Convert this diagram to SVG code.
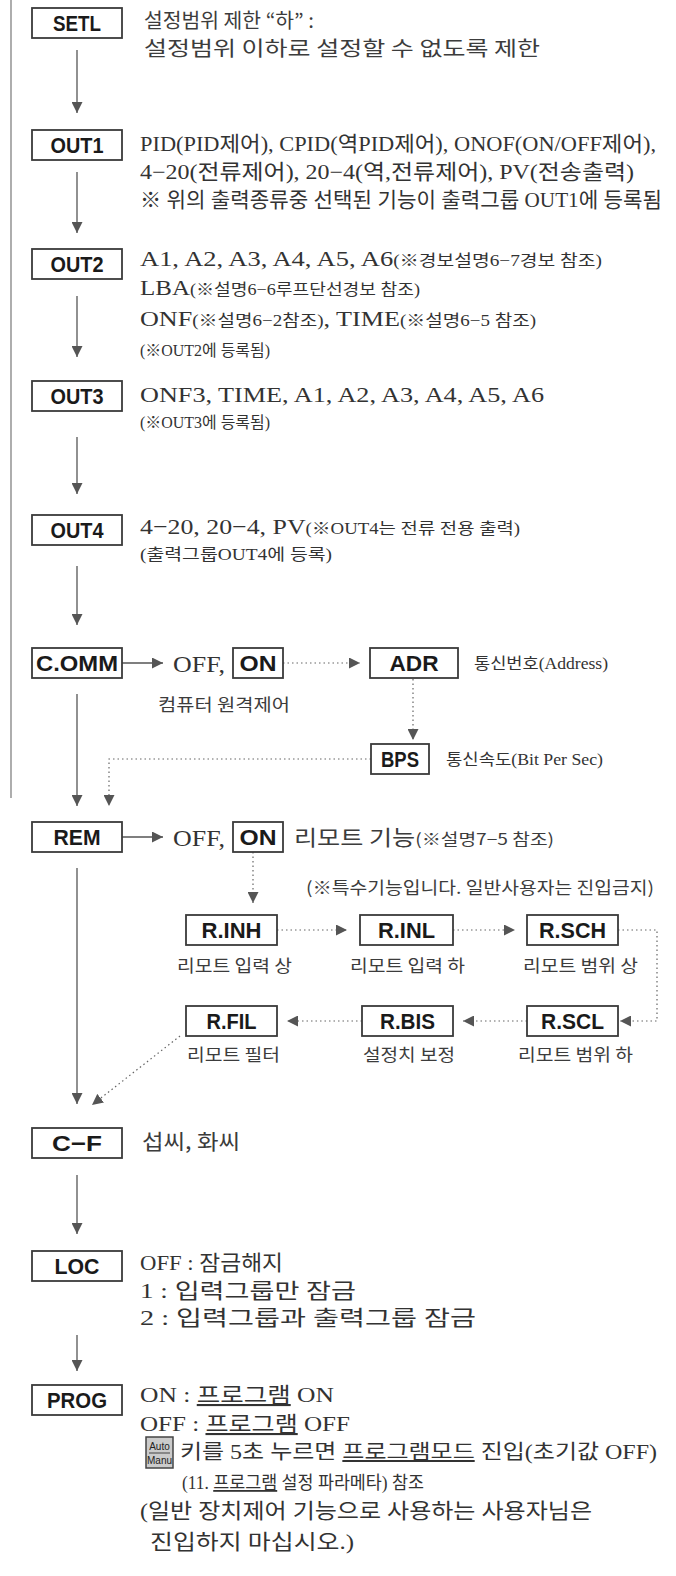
<svg xmlns="http://www.w3.org/2000/svg" width="676" height="1576" viewBox="0 0 676 1576">
<defs>
<style>
.box{fill:#fff;stroke:#3a3a3a;stroke-width:1.8}
.lbl{font-family:"Liberation Sans",Arial,sans-serif;font-weight:bold;font-size:22px;fill:#1a1a1a;text-anchor:middle}
.kg{font-family:"Noto Sans CJK KR",sans-serif;font-size:20px;fill:#3c3c3c}
.kgs{font-family:"Noto Sans CJK KR",sans-serif;font-size:17px;fill:#3c3c3c}
.sr{font-family:"Liberation Serif","Noto Sans CJK KR",serif;font-size:21px;fill:#333}
.sr2{font-family:"Liberation Serif","Noto Sans CJK KR",serif;font-size:22px;fill:#333}
.sm{font-size:16px}
.ln{stroke:#555;stroke-width:1.3;fill:none}
.dt{stroke:#666;stroke-width:1.2;stroke-dasharray:1.5 3;fill:none}
.u{text-decoration:underline}
</style>
<marker id="ah" markerUnits="userSpaceOnUse" markerWidth="11" markerHeight="11" refX="11" refY="5.5" orient="auto" viewBox="0 0 11 11">
<path d="M0,0 L11,5.5 L0,11 z" fill="#555"/>
</marker>
</defs>

<line x1="11" y1="0" x2="11" y2="798" stroke="#777" stroke-width="1.2"/>

<g id="connectors">
<line class="ln" x1="77" y1="50" x2="77" y2="113" marker-end="url(#ah)"/>
<line class="ln" x1="77" y1="172" x2="77" y2="233" marker-end="url(#ah)"/>
<line class="ln" x1="77" y1="296" x2="77" y2="357" marker-end="url(#ah)"/>
<line class="ln" x1="77" y1="437" x2="77" y2="494" marker-end="url(#ah)"/>
<line class="ln" x1="77" y1="566" x2="77" y2="625" marker-end="url(#ah)"/>
<line class="ln" x1="77" y1="694" x2="77" y2="806" marker-end="url(#ah)"/>
<line class="ln" x1="77" y1="868" x2="77" y2="1104" marker-end="url(#ah)"/>
<line class="ln" x1="77" y1="1175" x2="77" y2="1234" marker-end="url(#ah)"/>
<line class="ln" x1="77" y1="1335" x2="77" y2="1371" marker-end="url(#ah)"/>
<line class="ln" x1="122" y1="663" x2="163" y2="663" marker-end="url(#ah)"/>
<line class="ln" x1="122" y1="837" x2="163" y2="837" marker-end="url(#ah)"/>
<line class="dt" x1="283" y1="663" x2="360" y2="663" marker-end="url(#ah)"/>
<line class="dt" x1="413" y1="679" x2="413" y2="740" marker-end="url(#ah)"/>
<polyline class="dt" points="371,759 109,759 109,806" marker-end="url(#ah)"/>
<line class="dt" x1="253" y1="852" x2="253" y2="903" marker-end="url(#ah)"/>
<line class="dt" x1="277" y1="930" x2="347" y2="930" marker-end="url(#ah)"/>
<line class="dt" x1="453" y1="930" x2="515" y2="930" marker-end="url(#ah)"/>
<polyline class="dt" points="618,930 657,930 657,1021 620,1021" marker-end="url(#ah)"/>
<line class="dt" x1="527" y1="1021" x2="463" y2="1021" marker-end="url(#ah)"/>
<line class="dt" x1="362" y1="1021" x2="287" y2="1021" marker-end="url(#ah)"/>
<line class="dt" x1="180" y1="1036" x2="92" y2="1105" marker-end="url(#ah)"/>
</g>

<g id="SETL">
<rect class="box" x="32" y="8" width="90" height="30"/>
<text class="lbl" x="77" y="31" textLength="48" lengthAdjust="spacingAndGlyphs">SETL</text>
<text class="kg" x="144" y="28" textLength="170" lengthAdjust="spacingAndGlyphs">설정범위 제한 “하” :</text>
<text class="kg" x="144" y="56" textLength="396" lengthAdjust="spacingAndGlyphs">설정범위 이하로 설정할 수 없도록 제한</text>
</g>

<g id="OUT1">
<rect class="box" x="32" y="130" width="90" height="30"/>
<text class="lbl" x="77" y="153" textLength="53" lengthAdjust="spacingAndGlyphs">OUT1</text>
<text class="sr" x="140" y="151" textLength="516" lengthAdjust="spacingAndGlyphs">PID(PID제어), CPID(역PID제어), ONOF(ON/OFF제어),</text>
<text class="sr" x="140" y="179" textLength="494" lengthAdjust="spacingAndGlyphs">4−20(전류제어), 20−4(역,전류제어), PV(전송출력)</text>
<text class="sr" x="140" y="207" textLength="522" lengthAdjust="spacingAndGlyphs">※ 위의 출력종류중 선택된 기능이 출력그룹 OUT1에 등록됨</text>
</g>

<g id="OUT2">
<rect class="box" x="32" y="249" width="90" height="30"/>
<text class="lbl" x="77" y="272" textLength="53" lengthAdjust="spacingAndGlyphs">OUT2</text>
<text class="sr2" x="140" y="266" textLength="462" lengthAdjust="spacingAndGlyphs">A1, A2, A3, A4, A5, A6<tspan class="sm">(※경보설명6−7경보 참조)</tspan></text>
<text class="sr2" x="140" y="295" textLength="280" lengthAdjust="spacingAndGlyphs">LBA<tspan class="sm">(※설명6−6루프단선경보 참조)</tspan></text>
<text class="sr2" x="140" y="326" textLength="396" lengthAdjust="spacingAndGlyphs">ONF<tspan class="sm">(※설명6−2참조)</tspan>, TIME<tspan class="sm">(※설명6−5 참조)</tspan></text>
<text class="sr sm" x="140" y="356" textLength="130" lengthAdjust="spacingAndGlyphs">(※OUT2에 등록됨)</text>
</g>

<g id="OUT3">
<rect class="box" x="32" y="381" width="90" height="30"/>
<text class="lbl" x="77" y="404" textLength="53" lengthAdjust="spacingAndGlyphs">OUT3</text>
<text class="sr2" x="140" y="402" textLength="404" lengthAdjust="spacingAndGlyphs">ONF3, TIME, A1, A2, A3, A4, A5, A6</text>
<text class="sr sm" x="140" y="428" textLength="130" lengthAdjust="spacingAndGlyphs">(※OUT3에 등록됨)</text>
</g>

<g id="OUT4">
<rect class="box" x="32" y="515" width="90" height="30"/>
<text class="lbl" x="77" y="538" textLength="53" lengthAdjust="spacingAndGlyphs">OUT4</text>
<text class="sr2" x="140" y="534" textLength="380" lengthAdjust="spacingAndGlyphs">4−20, 20−4, PV<tspan class="sm">(※OUT4는 전류 전용 출력)</tspan></text>
<text class="sr sm" x="140" y="560" textLength="192" lengthAdjust="spacingAndGlyphs">(출력그룹OUT4에 등록)</text>
</g>

<g id="COMM">
<rect class="box" x="32" y="648" width="90" height="30"/>
<text class="lbl" x="77" y="671" textLength="82" lengthAdjust="spacingAndGlyphs">C.OMM</text>
<text class="sr" x="173" y="672" style="font-size:24px" textLength="52" lengthAdjust="spacingAndGlyphs">OFF,</text>
<text class="kgs" x="158" y="711" textLength="132" lengthAdjust="spacingAndGlyphs">컴퓨터 원격제어</text>
</g>
<g id="COMM_ON">
<rect class="box" x="233" y="648" width="50" height="30"/>
<text class="lbl" x="258" y="671" textLength="37" lengthAdjust="spacingAndGlyphs">ON</text>
</g>
<g id="ADR">
<rect class="box" x="370" y="648" width="88" height="30"/>
<text class="lbl" x="414" y="671" textLength="49" lengthAdjust="spacingAndGlyphs">ADR</text>
<text class="sr sm" x="474" y="669" textLength="134" lengthAdjust="spacingAndGlyphs">통신번호(Address)</text>
</g>
<g id="BPS">
<rect class="box" x="371" y="744" width="58" height="30"/>
<text class="lbl" x="400" y="767" textLength="38" lengthAdjust="spacingAndGlyphs">BPS</text>
<text class="sr sm" x="446" y="765" textLength="157" lengthAdjust="spacingAndGlyphs">통신속도(Bit Per Sec)</text>
</g>

<g id="REM">
<rect class="box" x="32" y="822" width="90" height="30"/>
<text class="lbl" x="77" y="845" textLength="47" lengthAdjust="spacingAndGlyphs">REM</text>
<text class="sr" x="173" y="846" style="font-size:24px" textLength="52" lengthAdjust="spacingAndGlyphs">OFF,</text>
<text class="kg" x="294" y="845" style="font-size:21px" textLength="260" lengthAdjust="spacingAndGlyphs">리모트 기능<tspan class="sm">(※설명7−5 참조)</tspan></text>
<text class="kgs" x="306" y="894" textLength="348" lengthAdjust="spacingAndGlyphs">(※특수기능입니다. 일반사용자는 진입금지)</text>
</g>
<g id="REM_ON">
<rect class="box" x="233" y="822" width="50" height="30"/>
<text class="lbl" x="258" y="845" textLength="37" lengthAdjust="spacingAndGlyphs">ON</text>
</g>

<g id="RINH">
<rect class="box" x="186" y="915" width="91" height="30"/>
<text class="lbl" x="231.5" y="938" textLength="60" lengthAdjust="spacingAndGlyphs">R.INH</text>
<text class="kgs" x="177" y="972" textLength="115" lengthAdjust="spacingAndGlyphs">리모트 입력 상</text>
</g>
<g id="RINL">
<rect class="box" x="360" y="915" width="93" height="30"/>
<text class="lbl" x="406.5" y="938" textLength="57" lengthAdjust="spacingAndGlyphs">R.INL</text>
<text class="kgs" x="350" y="972" textLength="115" lengthAdjust="spacingAndGlyphs">리모트 입력 하</text>
</g>
<g id="RSCH">
<rect class="box" x="527" y="915" width="91" height="30"/>
<text class="lbl" x="572.5" y="938" textLength="67" lengthAdjust="spacingAndGlyphs">R.SCH</text>
<text class="kgs" x="523" y="972" textLength="115" lengthAdjust="spacingAndGlyphs">리모트 범위 상</text>
</g>
<g id="RFIL">
<rect class="box" x="186" y="1006" width="91" height="30"/>
<text class="lbl" x="231.5" y="1029" textLength="50" lengthAdjust="spacingAndGlyphs">R.FIL</text>
<text class="kgs" x="187" y="1061" textLength="93" lengthAdjust="spacingAndGlyphs">리모트 필터</text>
</g>
<g id="RBIS">
<rect class="box" x="362" y="1006" width="91" height="30"/>
<text class="lbl" x="407.5" y="1029" textLength="55" lengthAdjust="spacingAndGlyphs">R.BIS</text>
<text class="kgs" x="363" y="1061" textLength="92" lengthAdjust="spacingAndGlyphs">설정치 보정</text>
</g>
<g id="RSCL">
<rect class="box" x="527" y="1006" width="91" height="30"/>
<text class="lbl" x="572.5" y="1029" textLength="63" lengthAdjust="spacingAndGlyphs">R.SCL</text>
<text class="kgs" x="518" y="1061" textLength="115" lengthAdjust="spacingAndGlyphs">리모트 범위 하</text>
</g>

<g id="CF">
<rect class="box" x="32" y="1128" width="90" height="30"/>
<text class="lbl" x="77" y="1151" textLength="50" lengthAdjust="spacingAndGlyphs">C−F</text>
<text class="kg" x="142" y="1149" style="font-size:21px" textLength="98" lengthAdjust="spacingAndGlyphs">섭씨, 화씨</text>
</g>

<g id="LOC">
<rect class="box" x="32" y="1251" width="90" height="30"/>
<text class="lbl" x="77" y="1274" textLength="45" lengthAdjust="spacingAndGlyphs">LOC</text>
<text class="sr" x="140" y="1270" textLength="143" lengthAdjust="spacingAndGlyphs">OFF : 잠금해지</text>
<text class="sr" x="140" y="1298" textLength="216" lengthAdjust="spacingAndGlyphs">1 : 입력그룹만 잠금</text>
<text class="sr" x="140" y="1325" textLength="336" lengthAdjust="spacingAndGlyphs">2 : 입력그룹과 출력그룹 잠금</text>
</g>

<g id="PROG">
<rect class="box" x="32" y="1385" width="90" height="30"/>
<text class="lbl" x="77" y="1408" textLength="60" lengthAdjust="spacingAndGlyphs">PROG</text>
<text class="sr" x="140" y="1402" textLength="194" lengthAdjust="spacingAndGlyphs">ON : <tspan class="u">프로그램</tspan> ON</text>
<text class="sr" x="140" y="1431" textLength="210" lengthAdjust="spacingAndGlyphs">OFF : <tspan class="u">프로그램</tspan> OFF</text>
</g>

<g id="AutoManu">
<rect x="146" y="1437" width="27" height="31" fill="#cbcbcb" stroke="#444" stroke-width="1.5"/>
<text x="159.5" y="1450" font-family="Liberation Sans,Arial,sans-serif" font-size="10" fill="#222" text-anchor="middle">Auto</text>
<line x1="149" y1="1453" x2="170" y2="1453" stroke="#222" stroke-width="0.8"/>
<text x="159.5" y="1464" font-family="Liberation Sans,Arial,sans-serif" font-size="10" fill="#222" text-anchor="middle">Manu</text>
<text class="sr" x="180" y="1459" style="font-size:20px" textLength="477" lengthAdjust="spacingAndGlyphs">키를 5초 누르면 <tspan class="u">프로그램모드</tspan> 진입(초기값 OFF)</text>
<text class="sr" x="182" y="1489" style="font-size:18px" textLength="242" lengthAdjust="spacingAndGlyphs">(11. <tspan class="u">프로그램</tspan> 설정 파라메타) 참조</text>
<text class="sr" x="140" y="1518" textLength="452" lengthAdjust="spacingAndGlyphs">(일반 장치제어 기능으로 사용하는 사용자님은</text>
<text class="sr" x="150" y="1549" textLength="204" lengthAdjust="spacingAndGlyphs">진입하지 마십시오.)</text>
</g>
</svg>
